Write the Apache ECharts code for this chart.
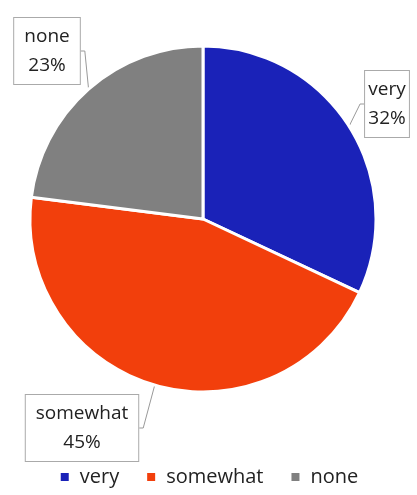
<!DOCTYPE html>
<html>
<head>
<meta charset="utf-8">
<script src="https://cdn.jsdelivr.net/npm/echarts@6/dist/echarts.min.js"></script>
<style>
html, body { margin: 0; padding: 0; background: #fff; }
#main { width: 417px; height: 495px; }
</style>
</head>
<body>
<div id="main"></div>
<script>
var categories = ['very', 'somewhat', 'none'];
var values = [32, 45, 23];
var colors = ['#1a22b8', '#f23f0c', '#808080'];
// label box centres, by slice
var labelPos = [[387, 104], [82, 428], [47, 51]];

var chart = echarts.init(document.getElementById('main'));
var option = {
	color: colors,
	legend: {
		data: categories,
		bottom: 3,
		left: 'center',
		icon: 'rect',
		itemWidth: 10,
		itemHeight: 10,
		itemGap: 26,
		textStyle: { fontSize: 20, color: '#222', fontFamily: 'Open Sans', padding: [0, 0, 0, 5] }
	},
	series: [{
		type: 'pie',
		center: [203, 219],
		radius: 173,
		startAngle: 90,
		clockwise: true,
		animation: false,
		data: categories.map(function (c, i) { return { name: c, value: values[i] }; }),
		itemStyle: { borderColor: '#fff', borderWidth: 3 },
		label: {
			show: true,
			formatter: '{b}\n{c}%',
			fontSize: 19,
			lineHeight: 29,
			color: '#222',
			fontFamily: 'Open Sans',
			backgroundColor: '#fff',
			borderColor: '#aaa',
			borderWidth: 1,
			padding: [4, 10, 4, 10],
			overflow: 'none',
			align: 'center'
		},
		labelLine: { show: true, lineStyle: { color: '#999', width: 1 }, length: 6, length2: 4 },
		labelLayout: function (params) {
			var p = labelPos[params.dataIndex];
			return { x: p[0], y: p[1], align: 'center', verticalAlign: 'middle' };
		}
	}]
};
chart.setOption(option);
</script>
</body>
</html>
